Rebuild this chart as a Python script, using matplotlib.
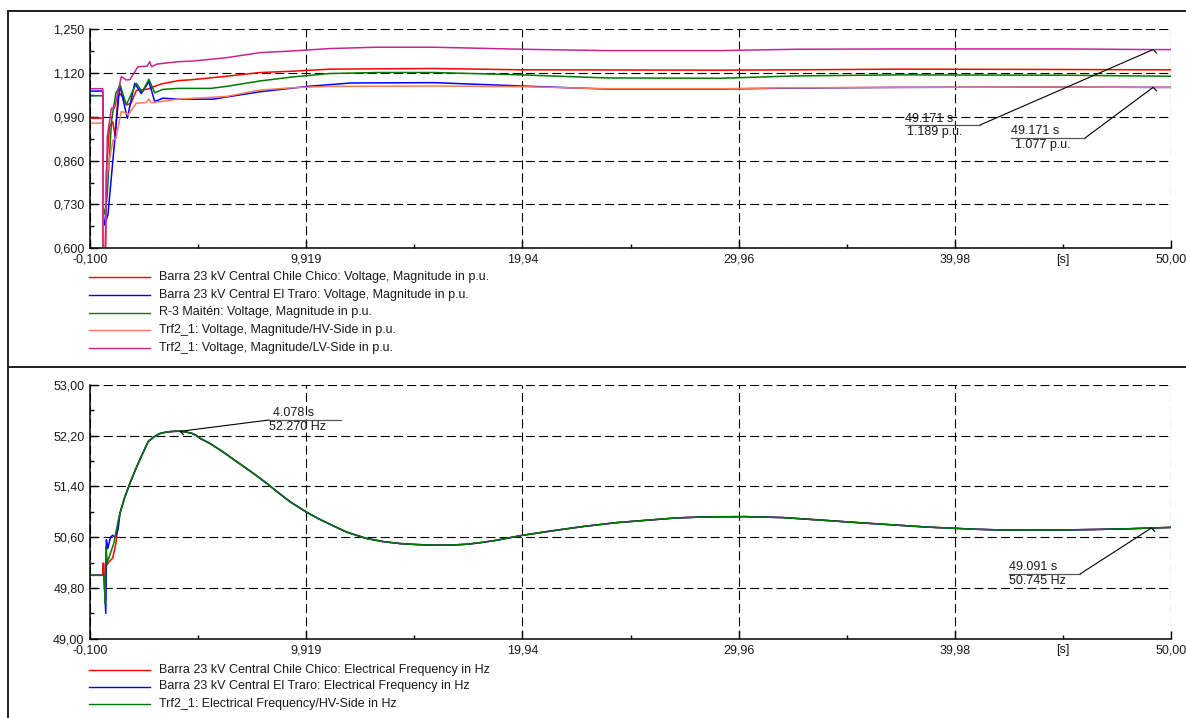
import matplotlib
matplotlib.use("Agg")
import matplotlib.pyplot as plt
from matplotlib.lines import Line2D
from matplotlib.ticker import FixedLocator, FixedFormatter

plt.rcParams['font.family'] = ['Liberation Sans', 'DejaVu Sans']
plt.rcParams['lines.scale_dashes'] = False

W, H = 1186, 718
FS = 9

# ---------------- Voltage magnitudes (p.u.) ----------------
t_v_chile = [-0.1, 0.49, 0.5, 0.6, 0.65, 0.8, 0.95, 1.06, 1.2, 1.3, 1.45, 1.6, 1.8, 2.05,
             2.6, 2.9, 3.2, 4.0, 4.67, 6.23, 7.78, 9.31, 11.0, 15.84, 19.92, 29.14, 32.66,
             37.43, 45.0, 49.171, 50.0]
v_chile = [0.986, 0.986, 0.50, 0.50, 0.82, 0.96, 0.975, 0.935, 1.05, 1.058, 1.045, 1.025,
           1.03, 1.068, 1.072, 1.080, 1.087, 1.097, 1.100, 1.110, 1.121, 1.125, 1.131, 1.133,
           1.129, 1.128, 1.129, 1.131, 1.130, 1.129, 1.129]

t_v_traro = [-0.1, 0.49, 0.52, 0.58, 0.73, 1.28, 1.63, 1.97, 2.28, 2.63, 2.9, 3.28, 3.98,
             5.6, 7.78, 10.0, 12.0, 15.84, 19.92, 23.81, 29.14, 32.66, 37.43, 45.0, 49.171, 50.0]
v_traro = [1.066, 1.066, 0.70, 0.669, 0.699, 1.084, 0.985, 1.089, 1.059, 1.094, 1.035, 1.045,
           1.042, 1.042, 1.064, 1.080, 1.090, 1.091, 1.081, 1.072, 1.072, 1.075, 1.077, 1.078,
           1.077, 1.077]

t_v_maiten = [-0.1, 0.49, 0.52, 0.6, 0.7, 0.9, 1.1, 1.3, 1.58, 2.05, 2.32, 2.63, 2.9, 3.28,
              3.98, 5.5, 6.23, 7.78, 9.31, 11.0, 13.18, 15.84, 19.92, 23.81, 29.14, 32.66,
              37.43, 45.0, 50.0]
v_maiten = [1.052, 1.052, 0.72, 0.70, 0.76, 0.98, 1.06, 1.084, 1.025, 1.089, 1.064, 1.101,
            1.061, 1.071, 1.074, 1.074, 1.080, 1.096, 1.108, 1.118, 1.121, 1.121, 1.114,
            1.105, 1.104, 1.111, 1.114, 1.113, 1.110]

t_v_hv = [-0.1, 0.49, 0.5, 0.6, 0.66, 0.8, 0.97, 1.1, 1.35, 1.5, 1.66, 2.05, 2.5, 2.63,
          2.72, 3.2, 3.98, 6.23, 7.78, 9.31, 11.0, 15.84, 19.92, 23.81, 29.14, 32.66,
          37.43, 45.0, 49.171, 50.0]
v_hv = [0.971, 0.971, 0.55, 0.55, 0.80, 0.862, 0.921, 0.925, 1.005, 1.003, 0.995, 1.030,
        1.032, 1.042, 1.032, 1.035, 1.042, 1.050, 1.069, 1.076, 1.080, 1.081, 1.079, 1.073,
        1.073, 1.076, 1.077, 1.078, 1.077, 1.077]

t_v_lv = [-0.1, 0.49, 0.5, 0.6, 0.62, 0.7, 0.89, 1.04, 1.35, 1.58, 1.75, 2.12, 2.55, 2.67,
          2.75, 3.0, 3.98, 4.67, 6.23, 7.78, 9.31, 11.0, 13.18, 15.84, 19.92, 23.81, 29.14,
          32.66, 37.43, 45.0, 49.171, 50.0]
v_lv = [1.073, 1.073, 0.50, 0.50, 0.60, 0.931, 1.015, 1.016, 1.109, 1.099, 1.100, 1.138,
        1.140, 1.153, 1.138, 1.146, 1.153, 1.155, 1.165, 1.180, 1.185, 1.192, 1.196, 1.196,
        1.190, 1.186, 1.186, 1.190, 1.191, 1.191, 1.189, 1.189]

# ---------------- Electrical frequency (Hz) ----------------
t_f_chile = [-0.1, 0.49, 0.5, 0.54, 0.58, 0.62, 0.66, 0.75, 0.95, 1.1, 1.2]
f_chile = [50.0, 50.0, 50.19, 50.19, 49.75, 49.60, 50.15, 50.20, 50.27, 50.50, 50.80]

t_f_traro = [-0.1, 0.49, 0.55, 0.63, 0.66, 0.72, 0.85, 0.95, 1.06, 1.2]
f_traro = [50.0, 50.0, 50.0, 49.40, 50.56, 50.42, 50.60, 50.63, 50.60, 50.72]

t_f_trf = [-0.1, 0.49, 0.55, 0.6, 0.64, 0.7, 0.8, 1.0, 1.2]
f_trf = [50.0, 50.0, 50.0, 49.56, 50.45, 50.20, 50.30, 50.50, 50.85]

# common swing shared by all three frequency traces after the disturbance
t_f_tail = [1.29, 1.5, 1.75, 2.0, 2.22, 2.6, 2.9, 3.14, 3.4, 3.61, 3.85, 4.078, 4.3, 4.6,
            4.8, 5.0, 5.5, 6.0, 6.54, 7.0, 7.5, 8.09, 8.6, 9.17, 9.91, 10.5, 11.17, 11.8,
            12.72, 13.5, 14.27, 15.0, 15.8, 16.6, 17.4, 18.0, 18.7, 19.94, 21.3, 22.78,
            24.3, 25.79, 27.1, 28.44, 30.23, 32.0, 33.77, 35.5, 37.32, 38.7, 39.98, 41.0,
            42.07, 43.5, 45.0, 46.5, 48.0, 49.091, 50.0]
f_tail = [50.98, 51.22, 51.45, 51.66, 51.83, 52.11, 52.19, 52.235, 52.255, 52.265, 52.27,
          52.270, 52.262, 52.240, 52.210, 52.16, 52.07, 51.96, 51.83, 51.72, 51.60, 51.45,
          51.31, 51.16, 51.00, 50.89, 50.78, 50.68, 50.58, 50.53, 50.50, 50.485, 50.475,
          50.475, 50.49, 50.515, 50.55, 50.63, 50.70, 50.77, 50.83, 50.87, 50.905, 50.92,
          50.925, 50.91, 50.87, 50.83, 50.79, 50.76, 50.74, 50.725, 50.715, 50.712, 50.715,
          50.722, 50.733, 50.745, 50.755]

# ---------------- Axis ticks ----------------
x_major = [-0.1, 9.919, 19.94, 29.96, 39.98, 50.0]
x_major_labels = ['-0,100', '9,919', '19,94', '29,96', '39,98', '50,00']
x_minor = [4.91, 14.93, 24.95, 34.97, 44.99]
x_minor_labels = ['', '', '', '', '[s]']

v_major = [0.600, 0.730, 0.860, 0.990, 1.120, 1.250]
v_major_labels = ['0,600', '0,730', '0,860', '0,990', '1,120', '1,250']
v_minor = [0.665, 0.795, 0.925, 1.055, 1.185]

f_major = [49.0, 49.8, 50.6, 51.4, 52.2, 53.0]
f_major_labels = ['49,00', '49,80', '50,60', '51,40', '52,20', '53,00']
f_minor = [49.4, 50.2, 51.0, 51.8, 52.6]

# ---------------- Legends ----------------
v_labels = ['Barra 23 kV Central Chile Chico: Voltage, Magnitude in p.u.',
            'Barra 23 kV Central El Traro: Voltage, Magnitude in p.u.',
            'R-3 Maitén: Voltage, Magnitude in p.u.',
            'Trf2_1: Voltage, Magnitude/HV-Side in p.u.',
            'Trf2_1: Voltage, Magnitude/LV-Side in p.u.']
f_labels = ['Barra 23 kV Central Chile Chico: Electrical Frequency in Hz',
            'Barra 23 kV Central El Traro: Electrical Frequency in Hz',
            'Trf2_1: Electrical Frequency/HV-Side in Hz']

RED, BLUE, GREEN, SALMON, MAGENTA = '#ff0000', '#0000ff', '#007a00', '#ff7a5a', '#c8268f'
v_colors = [RED, BLUE, GREEN, SALMON, MAGENTA]
f_colors = [RED, BLUE, GREEN]


def fx(px):
    return px / W


def fy(py):
    return 1 - py / H


fig = plt.figure(figsize=(W / 100, H / 100), dpi=100)
fig.patch.set_facecolor('white')

ax1 = fig.add_axes([fx(90), fy(248.3), 1081 / W, 219.3 / H])
ax2 = fig.add_axes([fx(90), fy(638.7), 1081 / W, 253.7 / H])


def style_axes(ax, ymaj, ymaj_lab, ymin, ylim):
    ax.set_xlim(-0.1, 50.0)
    ax.set_ylim(*ylim)
    for s in ('top', 'right'):
        ax.spines[s].set_visible(False)
    for s in ('left', 'bottom'):
        ax.spines[s].set_linewidth(1.1)
        ax.spines[s].set_color('black')
    ax.xaxis.set_major_locator(FixedLocator(x_major))
    ax.xaxis.set_major_formatter(FixedFormatter(x_major_labels))
    ax.xaxis.set_minor_locator(FixedLocator(x_minor))
    ax.xaxis.set_minor_formatter(FixedFormatter(x_minor_labels))
    ax.yaxis.set_major_locator(FixedLocator(ymaj))
    ax.yaxis.set_major_formatter(FixedFormatter(ymaj_lab))
    ax.yaxis.set_minor_locator(FixedLocator(ymin))
    ax.tick_params(which='both', direction='in', labelsize=FS, colors='black',
                   labelcolor='#1a1a1a', width=1.0)
    ax.tick_params(which='major', length=6)
    ax.tick_params(which='minor', length=3)
    ax.tick_params(axis='x', which='both', pad=4)
    ax.tick_params(axis='y', which='both', pad=4)
    ax.grid(True, which='major', color='black', lw=0.8, linestyle=(0, (6.5, 3)))


style_axes(ax1, v_major, v_major_labels, v_minor, (0.6, 1.25))
style_axes(ax2, f_major, f_major_labels, f_minor, (49.0, 53.0))

# voltage traces
v_series = [(t_v_chile, v_chile), (t_v_traro, v_traro), (t_v_maiten, v_maiten),
            (t_v_hv, v_hv), (t_v_lv, v_lv)]
for (t, v), c in zip(v_series, v_colors):
    ax1.plot(t, v, color=c, lw=1.1, solid_joinstyle='round')

# frequency traces
f_series = [(t_f_chile, f_chile), (t_f_traro, f_traro), (t_f_trf, f_trf)]
for (t, f), c in zip(f_series, f_colors):
    ax2.plot(t + t_f_tail, f + f_tail, color=c, lw=1.1, solid_joinstyle='round')


def callout(ax, t, val, knee, line_x, text1, text2, x1, x2):
    """Label with two text rows separated by a rule and a leader to the point."""
    kx, ky = knee
    ax.annotate('', xy=(t, val), xycoords='data', xytext=(kx, H - ky),
                textcoords='figure pixels',
                arrowprops=dict(arrowstyle='-', color='black', lw=0.8,
                                shrinkA=0, shrinkB=0))
    ax.annotate('', xy=(t, val), xycoords='data', xytext=(2.5, -2.5),
                textcoords='offset points',
                arrowprops=dict(arrowstyle='-', color='black', lw=0.8,
                                shrinkA=0, shrinkB=0))
    fig.add_artist(Line2D([fx(line_x[0]), fx(line_x[1])], [fy(ky), fy(ky)],
                          transform=fig.transFigure, color='#555555', lw=0.9))
    fig.text(fx(x1), fy(ky - 0.5), text1, fontsize=FS, ha='left', va='bottom',
             color='#1a1a1a')
    fig.text(fx(x2), fy(ky + 1.0), text2, fontsize=FS, ha='left', va='top',
             color='#1a1a1a')


lv_t, lv_val = 49.171, 1.189
hv_t, hv_val = 49.171, 1.077
fpk_t, fpk_val = 4.078, 52.270
fend_t, fend_val = 49.091, 50.745

callout(ax1, lv_t, lv_val, (980, 125), (905, 980),
        f'{lv_t:.3f} s', f'{lv_val:.3f} p.u.', 905, 907)
callout(ax1, hv_t, hv_val, (1085, 138), (1011, 1085),
        f'{hv_t:.3f} s', f'{hv_val:.3f} p.u.', 1011, 1015)
callout(ax2, fpk_t, fpk_val, (269, 420), (269, 341),
        f'{fpk_t:.3f} s', f'{fpk_val:.3f} Hz', 273, 269)
callout(ax2, fend_t, fend_val, (1080, 574), (1009, 1080),
        f'{fend_t:.3f} s', f'{fend_val:.3f} Hz', 1009, 1009)

# legends
for i, (lab, c) in enumerate(zip(v_labels, v_colors)):
    y = 277.5 + i * 17.5
    fig.add_artist(Line2D([fx(89), fx(150)], [fy(y), fy(y)], transform=fig.transFigure,
                          color=c, lw=1.0))
    fig.text(fx(159), fy(y), lab, fontsize=FS, ha='left', va='center', color='#1a1a1a')

for i, (lab, c) in enumerate(zip(f_labels, f_colors)):
    y = 669.5 + i * 17.0
    fig.add_artist(Line2D([fx(89), fx(150)], [fy(y), fy(y)], transform=fig.transFigure,
                          color=c, lw=1.0))
    fig.text(fx(159), fy(y), lab, fontsize=FS, ha='left', va='center', color='#1a1a1a')

# page frame
frame_kw = dict(transform=fig.transFigure, color='#202020', lw=1.4)
fig.add_artist(Line2D([fx(8), 1.0], [fy(11), fy(11)], **frame_kw))
fig.add_artist(Line2D([fx(8), fx(8)], [fy(11), 0.0], **frame_kw))
fig.add_artist(Line2D([fx(8), 1.0], [fy(367), fy(367)], **frame_kw))

fig.savefig('out.png', dpi=100, facecolor='white')
